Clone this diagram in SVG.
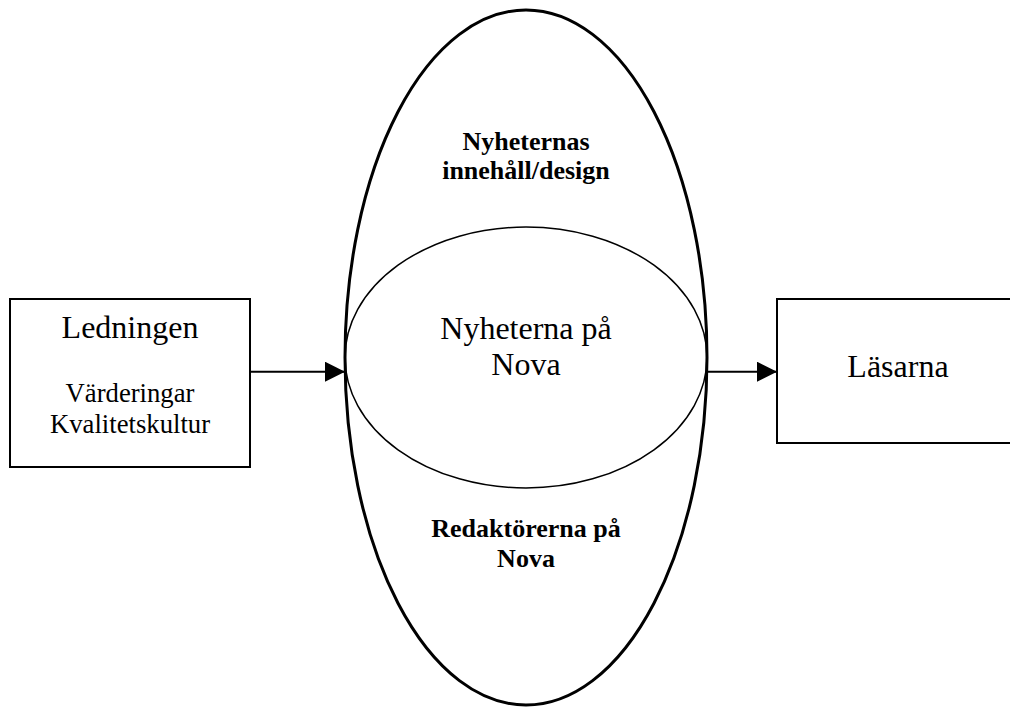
<svg xmlns="http://www.w3.org/2000/svg" width="1010" height="708" viewBox="0 0 1010 708">
<style>
.box{fill:#fff;stroke:#000;stroke-width:2}
.t{font-family:"Liberation Serif","Times New Roman",serif;fill:#000;text-anchor:middle}
.b{font-weight:bold;font-size:26px}
.conn{stroke:#000;stroke-width:2;fill:none}
</style>
<defs>
<marker id="ah" viewBox="0 0 20 20" refX="20" refY="10" markerWidth="20" markerHeight="20" markerUnits="userSpaceOnUse" orient="auto">
<path d="M0,0 L20,10 L0,20 Z" fill="#000"/>
</marker>
</defs>
<rect width="1010" height="708" fill="#fff"/>
<g id="ledningen">
<rect class="box" x="10" y="299" width="240" height="168"/>
<text class="t" x="130" y="338" font-size="32">Ledningen</text>
<text class="t" x="130" y="401.5" font-size="26.7">Värderingar</text>
<text class="t" x="130" y="432.5" font-size="26.7">Kvalitetskultur</text>
</g>
<g id="redaktorerna">
<ellipse cx="526" cy="357.5" rx="181" ry="347.5" fill="none" stroke="#000" stroke-width="3"/>
<text class="t b" x="526" y="150" font-size="25">Nyheternas</text>
<text class="t b" x="526" y="179" font-size="25">innehåll/design</text>
<text class="t b" x="526" y="536.7">Redaktörerna på</text>
<text class="t b" x="526" y="566.7">Nova</text>
</g>
<g id="nyheterna">
<ellipse cx="526" cy="357.5" rx="181" ry="130.5" fill="none" stroke="#000" stroke-width="1.5"/>
<text class="t" x="526" y="339.3" font-size="32">Nyheterna på</text>
<text class="t" x="526" y="375" font-size="32">Nova</text>
</g>
<g id="lasarna">
<rect class="box" x="777" y="299" width="250" height="144"/>
<text class="t" x="898" y="377.3" font-size="32">Läsarna</text>
</g>
<g id="connectors">
<line class="conn" x1="250" y1="371.7" x2="345" y2="371.7" marker-end="url(#ah)"/>
<line class="conn" x1="707" y1="371.7" x2="777" y2="371.7" marker-end="url(#ah)"/>
</g>
</svg>
